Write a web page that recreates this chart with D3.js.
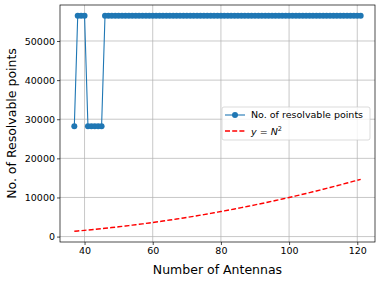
<!DOCTYPE html>
<html>
<head>
<meta charset="utf-8">
<script src="https://cdn.jsdelivr.net/npm/d3@7"></script>
<style>
  body { margin: 0; background: #fff; }
  svg { font-family: "DejaVu Sans", sans-serif; }
</style>
</head>
<body>
<div id="chart"></div>
<script>
// data
const antennas = d3.range(37, 122);
const lowIdx = [37, 41, 42, 43, 44, 45];
const lowValue = 28224;
const highValue = 56448;
const resolvable = antennas.map(n => lowIdx.includes(n) ? lowValue : highValue);
const squared = antennas.map(n => n * n);
const xTicks = [40, 60, 80, 100, 120];
const yTicks = [0, 10000, 20000, 30000, 40000, 50000];

function drawChart() {
    const width = 380, height = 281;
    const margin = {left: 60, right: 5, top: 5, bottom: 39};
    const svg = d3.select("#chart").append("svg").attr("width", width).attr("height", height);

    const x = d3.scaleLinear().domain([32.8, 125.2]).range([margin.left, width - margin.right]);
    const y = d3.scaleLinear().domain([-1385, 59202]).range([height - margin.bottom, margin.top]);

    // grid
    svg.append("g").selectAll("line").data(xTicks).join("line")
        .attr("x1", d => x(d)).attr("x2", d => x(d))
        .attr("y1", margin.top).attr("y2", height - margin.bottom)
        .attr("stroke", "#b0b0b0").attr("stroke-width", 0.7);
    svg.append("g").selectAll("line").data(yTicks).join("line")
        .attr("x1", margin.left).attr("x2", width - margin.right)
        .attr("y1", d => y(d)).attr("y2", d => y(d))
        .attr("stroke", "#b0b0b0").attr("stroke-width", 0.7);

    // axes
    const xAxis = svg.append("g").attr("transform", `translate(0,${height - margin.bottom})`)
        .call(d3.axisBottom(x).tickValues(xTicks).tickSize(3).tickPadding(2));
    const yAxis = svg.append("g").attr("transform", `translate(${margin.left},0)`)
        .call(d3.axisLeft(y).tickValues(yTicks).tickSize(3).tickPadding(2).tickFormat(d3.format("d")));
    [xAxis, yAxis].forEach(a => {
        a.select(".domain").remove();
        a.selectAll("text").attr("font-size", 9.5).attr("fill", "#000").attr("font-family", "DejaVu Sans");
        a.selectAll("line").attr("stroke", "#000").attr("stroke-width", 0.7);
    });
    svg.append("rect").attr("x", margin.left).attr("y", margin.top)
        .attr("width", width - margin.left - margin.right).attr("height", height - margin.top - margin.bottom)
        .attr("fill", "none").attr("stroke", "#000").attr("stroke-width", 0.7);

    // series
    const line = d3.line().x((d, i) => x(antennas[i])).y(d => y(d));
    svg.append("path").datum(resolvable).attr("d", line)
        .attr("fill", "none").attr("stroke", "#1f77b4").attr("stroke-width", 1.1);
    svg.append("g").selectAll("circle").data(resolvable).join("circle")
        .attr("cx", (d, i) => x(antennas[i])).attr("cy", d => y(d)).attr("r", 3)
        .attr("fill", "#1f77b4");
    svg.append("path").datum(squared).attr("d", line)
        .attr("fill", "none").attr("stroke", "red").attr("stroke-width", 1.4)
        .attr("stroke-dasharray", "5,2.2");

    // legend
    const lg = svg.append("g").attr("transform", "translate(222,107)");
    lg.append("rect").attr("width", 148).attr("height", 33).attr("rx", 2)
        .attr("fill", "#fff").attr("fill-opacity", 0.8).attr("stroke", "#ccc").attr("stroke-width", 0.7);
    lg.append("line").attr("x1", 3).attr("x2", 23).attr("y1", 8).attr("y2", 8)
        .attr("stroke", "#1f77b4").attr("stroke-width", 1.1);
    lg.append("circle").attr("cx", 13).attr("cy", 8).attr("r", 3).attr("fill", "#1f77b4");
    lg.append("text").attr("x", 29).attr("y", 11.3).attr("font-size", 9.5).text("No. of resolvable points");
    lg.append("line").attr("x1", 3).attr("x2", 23).attr("y1", 24).attr("y2", 24)
        .attr("stroke", "red").attr("stroke-width", 1.4).attr("stroke-dasharray", "5,2.2");
    const t = lg.append("text").attr("x", 29).attr("y", 27.5).attr("font-size", 9.5);
    t.append("tspan").attr("font-style", "italic").text("y");
    t.append("tspan").text(" = ");
    t.append("tspan").attr("font-style", "italic").text("N");
    t.append("tspan").attr("font-size", 6.5).attr("dy", -4).text("2");

    // axis labels
    svg.append("text").attr("x", x(79)).attr("y", 274).attr("text-anchor", "middle")
        .attr("font-size", 12.5).text("Number of Antennas");
    svg.append("text").attr("transform", `translate(15.5,${(margin.top + height - margin.bottom) / 2}) rotate(-90)`)
        .attr("text-anchor", "middle").attr("font-size", 12.5).text("No. of Resolvable points");
}

document.addEventListener("DOMContentLoaded", () => {
    drawChart();
});
</script>
</body>
</html>
